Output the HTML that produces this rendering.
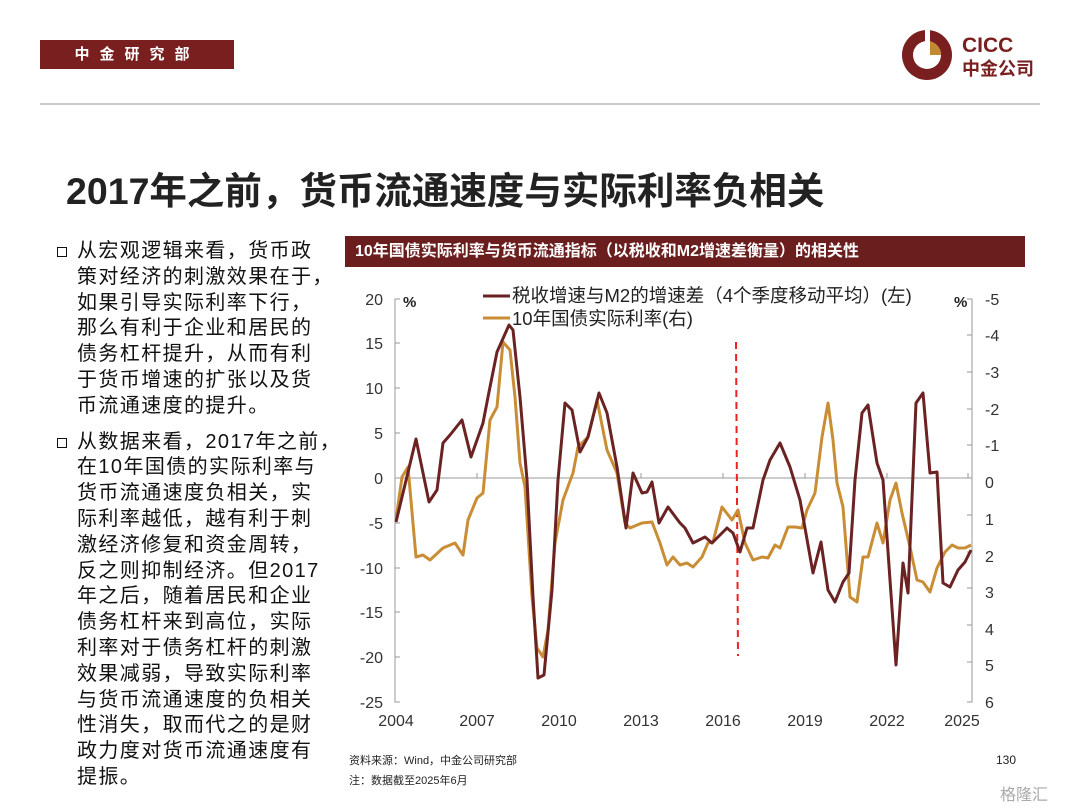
<!DOCTYPE html>
<html><head><meta charset="utf-8"><style>
body{margin:0;width:1080px;height:810px;background:#fff;overflow:hidden;font-family:"Liberation Sans","Noto Sans CJK SC",sans-serif;}
.abs{position:absolute}
.bul{position:absolute;left:56px;font-size:20px;letter-spacing:1.4px;line-height:25.8px;color:#111;white-space:nowrap}
.bul p{margin:0 0 10px 0;padding-left:21px;position:relative}
.bul p:before{content:"";position:absolute;left:1px;top:8px;width:8px;height:8px;border:1.5px solid #111;}
</style></head><body>
<div class="abs" style="left:40px;top:40px;width:194px;height:29px;background:#7a1f1f;color:#fff;font-size:15px;font-weight:bold;line-height:29px;letter-spacing:10px;text-align:center">中金研究部</div>
<svg class="abs" style="left:900px;top:26px" width="150" height="60">
<circle cx="27" cy="29" r="25" fill="#7a1f1f"/><circle cx="27" cy="29" r="14" fill="#fff"/><path d="M27 15 A14 14 0 0 1 41 29 L27 29Z" fill="#c08a2e"/><rect x="25" y="3" width="5" height="26" fill="#fff"/>
<text x="62" y="26" font-size="21" font-weight="bold" fill="#7a1f1f" font-family="Liberation Sans">CICC</text>
<text x="62" y="49" font-size="18" font-weight="bold" fill="#7a1f1f">中金公司</text></svg>
<div class="abs" style="left:40px;top:103px;width:1000px;height:2px;background:#ccc"></div>
<div class="abs" style="left:66px;top:160px;font-size:37.5px;font-weight:bold;color:#222">2017年之前，货币流通速度与实际利率负相关</div>
<div class="bul" style="top:239px">
<p>从宏观逻辑来看，货币政<br>策对经济的刺激效果在于，<br>如果引导实际利率下行，<br>那么有利于企业和居民的<br>债务杠杆提升，从而有利<br>于货币增速的扩张以及货<br>币流通速度的提升。</p>
<p>从数据来看，2017年之前，<br>在10年国债的实际利率与<br>货币流通速度负相关，实<br>际利率越低，越有利于刺<br>激经济修复和资金周转，<br>反之则抑制经济。但2017<br>年之后，随着居民和企业<br>债务杠杆来到高位，实际<br>利率对于债务杠杆的刺激<br>效果减弱，导致实际利率<br>与货币流通速度的负相关<br>性消失，取而代之的是财<br>政力度对货币流通速度有<br>提振。</p>
</div>
<div class="abs" style="left:345px;top:236px;width:680px;height:31px;background:#6b1e1e;color:#fff;font-size:16px;font-weight:bold;line-height:31px;padding-left:10px;box-sizing:border-box">10年国债实际利率与货币流通指标（以税收和M2增速差衡量）的相关性</div>
<svg class="abs" style="left:0;top:0" width="1080" height="810" font-family="Liberation Sans,Noto Sans CJK SC,sans-serif">
<g stroke="#999" stroke-width="1" fill="none">
<path d="M400 299H395V702H400"/>
<path d="M395 343H400M395 388H400M395 433H400M395 523H400M395 568H400M395 612H400M395 657H400"/>
<path d="M967 299H972V702H967"/>
<path d="M967 335H972M967 372H972M967 409H972M967 445H972M967 515H972M967 552H972M967 588H972M967 625H972M967 662H972"/>
<path d="M395 478H972"/>
<path d="M477 478V473M559 478V473M641 478V473M723 478V473M805 478V473M887 478V473M968 478V473"/>
</g>
<g font-size="16" fill="#333" text-anchor="end">
<text x="383" y="305">20</text><text x="383" y="349">15</text><text x="383" y="394">10</text><text x="383" y="439">5</text><text x="383" y="484">0</text><text x="383" y="529">-5</text><text x="383" y="574">-10</text><text x="383" y="618">-15</text><text x="383" y="663">-20</text><text x="383" y="708">-25</text>
</g>
<g font-size="16" fill="#333" text-anchor="start">
<text x="985" y="305">-5</text><text x="985" y="341">-4</text><text x="985" y="378">-3</text><text x="985" y="415">-2</text><text x="985" y="451">-1</text><text x="985" y="488">0</text><text x="985" y="525">1</text><text x="985" y="562">2</text><text x="985" y="598">3</text><text x="985" y="635">4</text><text x="985" y="671">5</text><text x="985" y="708">6</text>
</g>
<text x="403" y="307" font-size="15" font-weight="bold" fill="#222">%</text>
<text x="954" y="307" font-size="15" font-weight="bold" fill="#222">%</text>
<g font-size="16" fill="#333" text-anchor="middle">
<text x="396" y="726">2004</text><text x="477" y="726">2007</text><text x="559" y="726">2010</text><text x="641" y="726">2013</text><text x="723" y="726">2016</text><text x="805" y="726">2019</text><text x="887" y="726">2022</text><text x="962" y="726">2025</text>
</g>
<line x1="483" y1="296" x2="510" y2="296" stroke="#6b2222" stroke-width="3"/>
<text x="512" y="302" font-size="18.5" fill="#222">税收增速与M2的增速差（4个季度移动平均）(左)</text>
<line x1="483" y1="318" x2="510" y2="318" stroke="#c98d36" stroke-width="3"/>
<text x="512" y="325" font-size="18.5" fill="#222">10年国债实际利率(右)</text>
<line x1="736" y1="342" x2="738" y2="656" stroke="#f02020" stroke-width="2" stroke-dasharray="7,5"/>
<polyline fill="none" stroke="#c98d36" stroke-width="3" stroke-linejoin="round" points="396,520 402,477 408,467 416,557 423,555 430,560 443,548 455,543 463,555 468,520 477,498 483,493 490,420 497,407 503,342 510,350 515,397 520,463 525,487 532,597 537,648 543,657 548,630 555,543 563,500 573,473 578,447 588,437 597,400 607,450 617,473 625,523 630,528 642,523 652,522 660,543 667,565 673,557 680,565 687,563 693,567 702,557 708,543 713,542 722,507 732,520 738,510 745,543 753,560 762,557 768,558 775,545 780,548 788,527 795,527 802,528 807,510 815,493 822,437 828,403 833,440 837,483 843,507 850,597 857,602 863,557 868,557 877,523 883,543 890,500 896,483 902,513 910,547 917,580 923,582 930,592 937,568 945,552 952,545 958,548 965,548 971,545"/>
<polyline fill="none" stroke="#6b2222" stroke-width="3" stroke-linejoin="round" points="396,522 416,439 429,502 437,490 443,443 450,435 462,420 471,457 477,440 483,423 488,397 497,352 509,325 513,330 520,397 527,480 533,597 538,678 544,675 552,590 558,480 565,403 572,410 580,452 588,437 599,393 607,413 617,467 626,528 633,473 642,493 647,492 652,482 659,523 668,507 680,523 685,528 693,543 705,537 712,543 727,528 733,533 740,552 747,528 753,528 763,480 770,460 780,443 790,467 800,500 813,573 821,542 828,590 835,602 843,582 849,573 855,480 862,413 868,405 877,463 883,480 890,580 896,665 903,563 908,593 916,403 923,393 930,473 937,472 943,583 950,587 958,570 965,562 971,550"/>
<text x="349" y="764" font-size="11" fill="#222">资料来源：Wind，中金公司研究部</text>
<text x="349" y="784" font-size="11" fill="#222">注：数据截至2025年6月</text>
<text x="1016" y="764" font-size="12" fill="#222" text-anchor="end">130</text>
<text x="1000" y="800" font-size="16" fill="#aaa">格隆汇</text>
</svg>
</body></html>
